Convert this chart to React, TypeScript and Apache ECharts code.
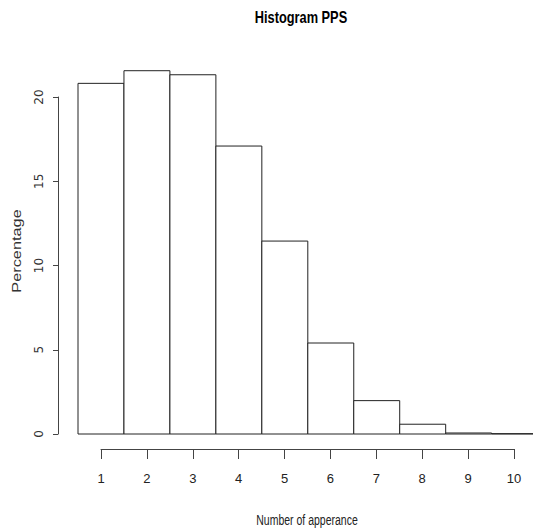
import React, { useEffect, useRef } from "react";
import * as echarts from "echarts";

const categories = [1, 2, 3, 4, 5, 6, 7, 8, 9, 10];
const percentages = [20.81, 21.56, 21.32, 17.09, 11.45, 5.4, 1.98, 0.58, 0.06, 0.02];
const xTicks = [1, 2, 3, 4, 5, 6, 7, 8, 9, 10];
const yTicks = [0, 5, 10, 15, 20];

const SANS = "'Liberation Sans', Arial, sans-serif";

export default function App() {
  const ref = useRef<HTMLDivElement>(null);
  useEffect(() => {
    if (!ref.current) return;
    const chart = echarts.init(ref.current, undefined, { renderer: "svg" });
    const data = categories.map((c, i) => [c, percentages[i]]);
    chart.setOption({
      animation: false,
      backgroundColor: "#ffffff",
      grid: [
        { left: 78, width: 455, top: 434 - 25 * 16.85, height: 25 * 16.85 },
        { left: 101, width: 413, top: 448, height: 1 },
        { left: 58, width: 1, top: 97, height: 337 },
      ],
      xAxis: [
        { type: "value", gridIndex: 0, min: 0.5, max: 10.4, show: false },
        {
          type: "value",
          gridIndex: 1,
          min: xTicks[0],
          max: xTicks[xTicks.length - 1],
          interval: 1,
          position: "bottom",
          axisLine: { show: true, lineStyle: { color: "#444", width: 1 } },
          axisTick: { show: true, length: 10, lineStyle: { color: "#444", width: 1 } },
          splitLine: { show: false },
          axisLabel: {
            margin: 23,
            fontFamily: SANS,
            fontSize: 13,
            color: "#222",
            showMinLabel: true,
            showMaxLabel: true,
          },
        },
        { type: "value", gridIndex: 2, show: false },
      ],
      yAxis: [
        { type: "value", gridIndex: 0, min: 0, max: 25, show: false },
        { type: "value", gridIndex: 1, show: false },
        {
          type: "value",
          gridIndex: 2,
          min: yTicks[0],
          max: yTicks[yTicks.length - 1],
          interval: 5,
          position: "left",
          axisLine: { show: true, lineStyle: { color: "#444", width: 1 } },
          axisTick: { show: true, length: 5, lineStyle: { color: "#444", width: 1 } },
          splitLine: { show: false },
          axisLabel: {
            rotate: 90,
            margin: 13,
            fontFamily: "'DejaVu Sans', sans-serif",
            fontSize: 12,
            color: "#333",
            showMinLabel: true,
            showMaxLabel: true,
          },
        },
      ],
      series: [
        {
          type: "custom",
          xAxisIndex: 0,
          yAxisIndex: 0,
          clip: false,
          data,
          renderItem: (params: any, api: any) => {
            const x = api.value(0);
            const v = api.value(1);
            const p0 = api.coord([x - 0.5, v]);
            const p1 = api.coord([x + 0.5, 0]);
            return {
              type: "rect",
              shape: { x: p0[0], y: p0[1], width: p1[0] - p0[0], height: p1[1] - p0[1] },
              style: { fill: "#ffffff", stroke: "#222", lineWidth: 1 },
            };
          },
        },
      ],
      graphic: [
        {
          type: "text",
          x: 301,
          y: 17,
          scaleX: 0.8,
          style: {
            text: "Histogram PPS",
            fontFamily: SANS,
            fontWeight: "bold",
            fontSize: 16,
            fill: "#000",
            align: "center",
            verticalAlign: "middle",
          },
        },
        {
          type: "text",
          x: 307,
          y: 520,
          scaleX: 0.7,
          style: {
            text: "Number of apperance",
            fontFamily: SANS,
            fontSize: 15,
            fill: "#222",
            align: "center",
            verticalAlign: "middle",
          },
        },
        {
          type: "text",
          x: 17,
          y: 251,
          rotation: Math.PI / 2,
          scaleX: 1.36,
          scaleY: 1,
          style: {
            text: "Percentage",
            fontFamily: SANS,
            fontSize: 12,
            fill: "#333",
            align: "center",
            verticalAlign: "middle",
          },
        },
      ],
    });
    return () => chart.dispose();
  }, []);
  return (
    <div
      ref={ref}
      style={{ position: "absolute", left: 0, top: 0, width: 533, height: 531 }}
    />
  );
}
